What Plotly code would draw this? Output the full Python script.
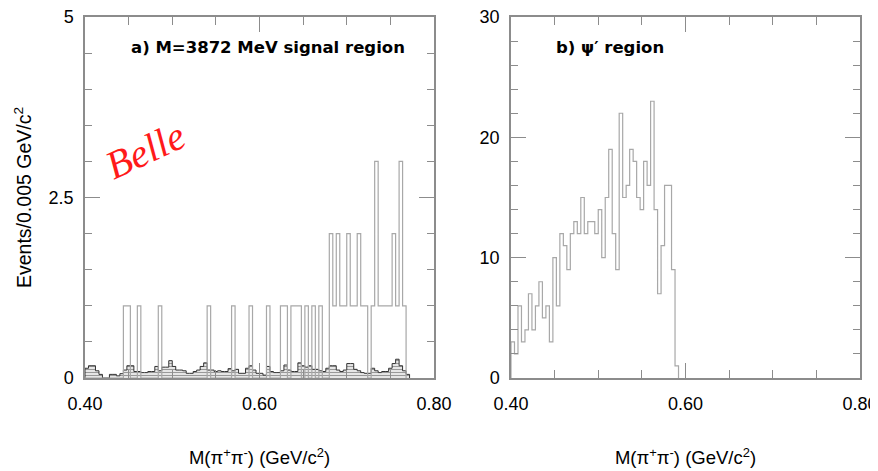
import numpy as np
import plotly.graph_objects as go

# ---------------- data ----------------
BIN_WIDTH = 0.004          # GeV per bin
X_START = 0.40             # first bin edge

# (a) M = 3872 MeV signal region : events per bin
signal_counts = [
    0, 0, 0, 0, 0, 0, 0, 0, 0, 0,
    0, 1, 1, 0, 0, 1, 0, 0, 0, 0,
    0, 1, 0, 0, 0, 0, 0, 0, 0, 0,
    0, 0, 0, 0, 0, 1, 0, 0, 0, 0,
    0, 0, 1, 0, 0, 0, 0, 1, 0, 0,
    0, 0, 1, 0, 0, 0, 1, 1, 0, 1,
    1, 1, 0, 1, 0, 1, 0, 1, 0, 0,
    2, 1, 2, 1, 1, 2, 1, 1, 2, 1,
    1, 0, 1, 3, 1, 1, 1, 1, 2, 1,
    3, 1,
]

# (a) scaled sideband background (hatched)
background_counts = [
    0.135, 0.17, 0.17, 0.10, 0.05, 0.0, 0.0, 0.05, 0.05, 0.03,
    0.06, 0.11, 0.17, 0.17, 0.09, 0.09, 0.075, 0.075, 0.09, 0.09,
    0.16, 0.10, 0.15, 0.15, 0.24, 0.16, 0.11, 0.11, 0.10, 0.065,
    0.065, 0.09, 0.11, 0.16, 0.21, 0.11, 0.11, 0.09, 0.10, 0.09,
    0.09, 0.13, 0.10, 0.12, 0.065, 0.065, 0.135, 0.17, 0.11, 0.065,
    0.065, 0.04, 0.16, 0.09, 0.075, 0.075, 0.10, 0.18, 0.11, 0.09,
    0.09, 0.21, 0.17, 0.15, 0.17, 0.12, 0.12, 0.10, 0.09, 0.135,
    0.17, 0.17, 0.11, 0.09, 0.11, 0.20, 0.20, 0.12, 0.10, 0.075,
    0.065, 0.065, 0.135, 0.10, 0.075, 0.09, 0.09, 0.135, 0.20, 0.26,
    0.17, 0.10, 0.05,
]

# (b) psi' region : events per bin
psi2s_counts = [
    3, 2, 6, 3, 4, 7, 4, 6, 8, 5, 6, 3, 10, 6, 12, 11, 9, 12, 13, 12,
    15, 12, 13, 13, 12, 14, 10, 15, 19, 12, 9, 22, 15, 16, 19, 18, 15, 14,
    18, 16, 23, 14, 7, 11, 16, 16, 9, 1,
]

x_tick_vals = [0.40, 0.60, 0.80]
x_tick_text = ["0.40", "0.60", "0.80"]
ya_tick_vals = [0, 2.5, 5]
ya_tick_text = ["0", "2.5", "5"]
yb_tick_vals = [0, 10, 20, 30]
yb_tick_text = ["0", "10", "20", "30"]

# ---------------- helpers ----------------
def step_outline(counts):
    n = len(counts)
    edges = X_START + BIN_WIDTH * np.arange(n + 1)
    xs = [edges[0]] + list(edges[:-1]) + [edges[-1]]
    ys = [0] + list(counts) + [0]
    return xs, ys

def centers(counts):
    return X_START + BIN_WIDTH * (np.arange(len(counts)) + 0.5)

HIST_COLOR = "#a8a8a8"
FRAME_COLOR = "#8c8c8c"
TICK_FONT = dict(family="Liberation Sans", size=18, color="black")

fig = go.Figure()

# background hatched histogram (panel a)
fig.add_trace(go.Bar(
    x=centers(background_counts), y=background_counts, width=BIN_WIDTH,
    marker=dict(color="white",
                pattern=dict(shape="-", fgcolor="#333333", bgcolor="white",
                             size=3, solidity=0.5),
                line=dict(width=0)),
    xaxis="x", yaxis="y", showlegend=False, hoverinfo="skip"))
bx, by = step_outline(background_counts)
fig.add_trace(go.Scatter(x=bx, y=by, mode="lines", line=dict(color="#333333", width=1, shape="hv"),
                         xaxis="x", yaxis="y", showlegend=False))

# signal histogram (panel a)
sx, sy = step_outline(signal_counts)
fig.add_trace(go.Scatter(x=sx, y=sy, mode="lines", line=dict(color=HIST_COLOR, width=1.2, shape="hv"),
                         xaxis="x", yaxis="y", showlegend=False))

# psi' histogram (panel b)
px_, py_ = step_outline(psi2s_counts)
fig.add_trace(go.Scatter(x=px_, y=py_, mode="lines", line=dict(color=HIST_COLOR, width=1.2, shape="hv"),
                         xaxis="x2", yaxis="y2", showlegend=False))

# page body has an 8 px margin; lay out in reference pixels shifted by it
OFF = 8
W, H = 878 - OFF, 471 - OFF
def fx(p): return (p - OFF) / W
def fy(p): return (H - (p - OFF)) / H

xa_dom = [fx(85), fx(434)]
xb_dom = [fx(511), fx(860)]
y_dom = [fy(378), fy(17)]

x_title = "M(π<sup>+</sup>π<sup>-</sup>) (GeV/c<sup>2</sup>)"

def xaxis_cfg(dom, anchor):
    return dict(domain=dom, anchor=anchor, range=[0.40, 0.80],
                tickvals=x_tick_vals, ticktext=x_tick_text,
                ticks="inside", ticklen=15, tickwidth=1, tickcolor=FRAME_COLOR,
                minor=dict(dtick=0.05, tick0=0.40, ticks="inside", ticklen=8,
                           tickcolor=FRAME_COLOR, tickwidth=1),
                showline=True, linecolor=FRAME_COLOR, linewidth=1.5, mirror="allticks",
                showgrid=False, zeroline=False, tickfont=TICK_FONT,
                ticklabelstandoff=9, ticklabeloverflow="allow",
                title=dict(text=x_title, font=dict(family="Liberation Sans", size=18.5, color="black"),
                           standoff=38),
                automargin=False)

def yaxis_cfg(dom, anchor, rng, tv, tt, minor_dt):
    return dict(domain=dom, anchor=anchor, range=rng, tickvals=tv, ticktext=tt,
                ticks="inside", ticklen=15, tickwidth=1, tickcolor=FRAME_COLOR,
                minor=dict(dtick=minor_dt, tick0=0, ticks="inside", ticklen=7,
                           tickcolor=FRAME_COLOR, tickwidth=1),
                showline=True, linecolor=FRAME_COLOR, linewidth=1.5, mirror="allticks",
                showgrid=False, zeroline=False, tickfont=TICK_FONT,
                ticklabelstandoff=6, ticklabeloverflow="allow", automargin=False)

ya = yaxis_cfg(y_dom, "x", [0, 5], ya_tick_vals, ya_tick_text, 0.5)
ya["title"] = dict(text="Events/0.005 GeV/c<sup>2</sup>",
                   font=dict(family="Liberation Sans", size=19.5, color="black"), standoff=12)
yb = yaxis_cfg(y_dom, "x2", [0, 30], yb_tick_vals, yb_tick_text, 2)

fig.update_layout(
    width=W, height=H,
    margin=dict(l=0, r=0, t=0, b=0),
    paper_bgcolor="white", plot_bgcolor="white",
    barmode="overlay", bargap=0,
    xaxis=xaxis_cfg(xa_dom, "y"),
    xaxis2=xaxis_cfg(xb_dom, "y2"),
    yaxis=ya, yaxis2=yb,
    showlegend=False,
    annotations=[
        dict(text="<b>a) M=3872 MeV signal region</b>", xref="paper", yref="paper",
             x=fx(268), y=fy(47), xanchor="center", yanchor="middle", showarrow=False,
             font=dict(family="DejaVu Sans", size=16.5, color="black")),
        dict(text="<b>b) ψ′ region</b>", xref="paper", yref="paper",
             x=fx(554), y=fy(47), xanchor="left", yanchor="middle", showarrow=False,
             font=dict(family="DejaVu Sans", size=16.5, color="black")),
        dict(text="<i>Belle</i>", xref="paper", yref="paper",
             x=fx(145), y=fy(150), xanchor="center", yanchor="middle", showarrow=False,
             textangle=-25,
             font=dict(family="Liberation Serif", size=40, color="#ff1a1a")),
    ],
)

fig.write_html("out.html")
